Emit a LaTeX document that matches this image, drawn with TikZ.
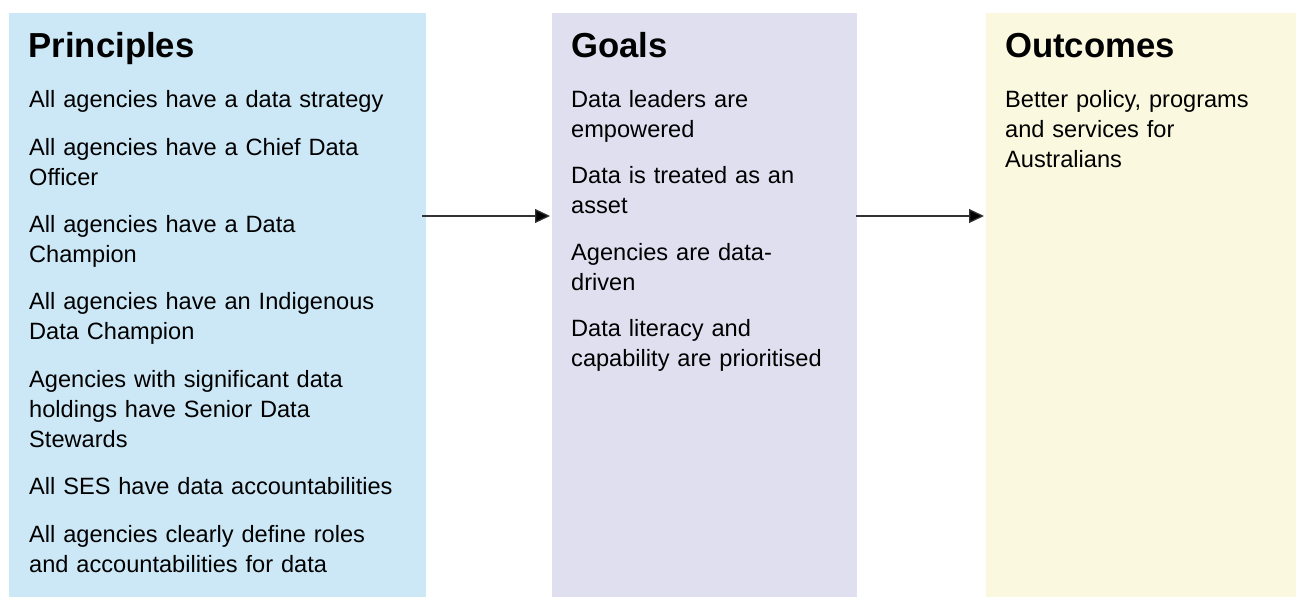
\documentclass[tikz,border=0pt]{standalone}
\usepackage{fontspec}
\setmainfont{Liberation Sans}
\usetikzlibrary{arrows.meta}
\definecolor{pblue}{RGB}{204,232,246}
\definecolor{gpurple}{RGB}{224,223,240}
\definecolor{oyellow}{RGB}{250,248,222}
\definecolor{arrowgray}{RGB}{50,50,50}
\tikzset{
  colbox/.style={draw=none, inner sep=0pt, outer sep=0pt, anchor=north west},
  title/.style={anchor=base west, inner sep=0pt, font=\fontsize{34.7}{42}\selectfont\bfseries},
  item/.style={anchor=base west, inner sep=0pt, text width=390pt, align=left, font=\fontsize{23.6}{30}\selectfont},
  flow/.style={draw=arrowgray, line width=1.3pt, -{Triangle[length=15pt,width=14pt,fill=black]}}
}
\begin{document}
\begin{tikzpicture}[x=1pt,y=-1pt]
\useasboundingbox (0,0) rectangle (1296,597);
% column boxes
\node[colbox, fill=pblue, minimum width=417pt, minimum height=584pt] (P) at (9,13) {};
\node[colbox, fill=gpurple, minimum width=305pt, minimum height=584pt] (G) at (552,13) {};
\node[colbox, fill=oyellow, minimum width=310pt, minimum height=584pt] (O) at (986,13) {};
% Principles
\node[title] (pt) at (28.5,57) {Principles};
\node[item] (p1) at (29,107.5) {All agencies have a data strategy};
\node[item] (p2) at (29,155) {All agencies have a Chief Data\\Officer};
\node[item] (p3) at (29,232) {All agencies have a Data\\Champion};
\node[item] (p4) at (29,309.5) {All agencies have an Indigenous\\Data Champion};
\node[item] (p5) at (29,387) {Agencies with significant data\\holdings have Senior Data\\Stewards};
\node[item] (p6) at (29,494.5) {All SES have data accountabilities};
\node[item] (p7) at (29,542) {All agencies clearly define roles\\and accountabilities for data};
% Goals
\node[title] (gt) at (571,57) {Goals};
\node[item] (g1) at (571,107.5) {Data leaders are\\empowered};
\node[item] (g2) at (571,183.5) {Data is treated as an\\asset};
\node[item] (g3) at (571,260) {Agencies are data-\\driven};
\node[item] (g4) at (571,336.5) {Data literacy and\\capability are prioritised};
% Outcomes
\node[title] (ot) at (1005,57) {Outcomes};
\node[item] (o1) at (1005,107.5) {Better policy, programs\\and services for\\Australians};
% connectors
\coordinate (ay) at (0,216);
\draw[flow, shorten <=-4pt, shorten >=2pt] (P.east |- ay) -- (G.west |- ay);
\draw[flow, shorten <=-1pt, shorten >=2pt] (G.east |- ay) -- (O.west |- ay);
\end{tikzpicture}
\end{document}
